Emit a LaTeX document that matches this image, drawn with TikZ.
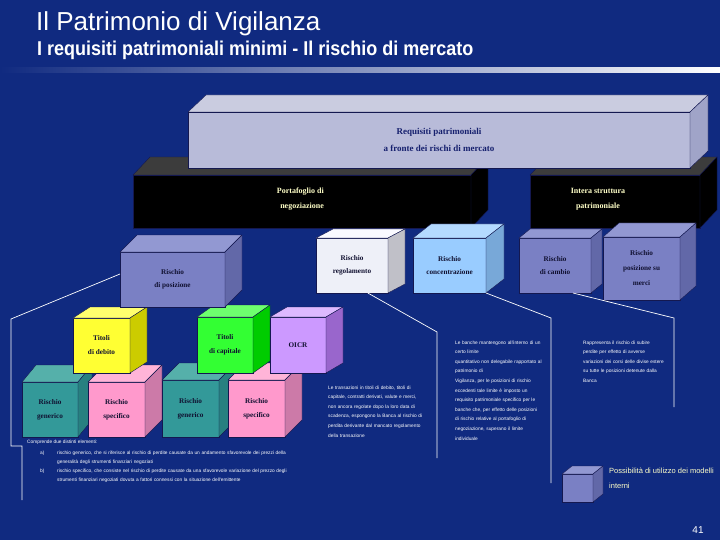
\documentclass[tikz,border=0pt]{standalone}
\usepackage{fontspec}
\setmainfont{Liberation Serif}
\newfontfamily\arialf{Liberation Sans}
\usetikzlibrary{calc}
\definecolor{bg}{RGB}{16,42,128}
\definecolor{edge}{RGB}{20,24,80}
\definecolor{boxtext}{RGB}{16,16,48}
\definecolor{navytext}{RGB}{22,32,110}
\definecolor{paleyel}{RGB}{255,255,200}
\definecolor{lavF}{RGB}{184,187,217}
\definecolor{lavT}{RGB}{202,204,224}
\definecolor{lavS}{RGB}{160,164,200}
\definecolor{blkF}{RGB}{0,0,0}
\definecolor{blkT}{RGB}{60,60,60}
\definecolor{blkS}{RGB}{0,0,0}
\definecolor{perF}{RGB}{122,128,196}
\definecolor{perT}{RGB}{146,152,210}
\definecolor{perS}{RGB}{98,104,168}
\definecolor{whtF}{RGB}{238,240,248}
\definecolor{whtT}{RGB}{250,250,255}
\definecolor{whtS}{RGB}{192,192,200}
\definecolor{lblF}{RGB}{153,204,255}
\definecolor{lblT}{RGB}{180,218,255}
\definecolor{lblS}{RGB}{120,168,216}
\definecolor{yelF}{RGB}{255,255,51}
\definecolor{yelT}{RGB}{255,255,110}
\definecolor{yelS}{RGB}{204,204,0}
\definecolor{grnF}{RGB}{51,255,51}
\definecolor{grnT}{RGB}{110,255,110}
\definecolor{grnS}{RGB}{0,204,0}
\definecolor{lilF}{RGB}{204,153,255}
\definecolor{lilT}{RGB}{221,185,255}
\definecolor{lilS}{RGB}{153,102,204}
\definecolor{teaF}{RGB}{51,153,153}
\definecolor{teaT}{RGB}{85,176,170}
\definecolor{teaS}{RGB}{40,128,128}
\definecolor{pnkF}{RGB}{255,153,204}
\definecolor{pnkT}{RGB}{255,180,216}
\definecolor{pnkS}{RGB}{204,122,168}
% #1 name, #2 x, #3 y, #4 w, #5 h, #6 dx, #7 dy, #8 colour, #9 text
\newcommand\cubebox[9]{%
  \node[cubefront, minimum width=#4pt, minimum height=#5pt, fill=#8F] (#1) at (#2,#3) {#9};
  \filldraw[cubeface, fill=#8T] (#1.north west) -- ++(#6,-#7) -- ($(#1.north east)+(#6,-#7)$) -- (#1.north east) -- cycle;
  \filldraw[cubeface, fill=#8S] (#1.north east) -- ++(#6,-#7) -- ($(#1.south east)+(#6,-#7)$) -- (#1.south east) -- cycle;
}
\newcommand\jl[1]{\makebox[\linewidth][s]{#1}\par}
\begin{document}
\begin{tikzpicture}[x=1pt,y=-1pt,
  boxfont/.style={font=\bfseries\fontsize{7.2}{13}\selectfont},
  cubefront/.style={anchor=north west, draw=edge, line width=0.4pt, inner sep=0pt, outer sep=0pt, align=center, text=boxtext, boxfont},
  cubeface/.style={draw=edge, line width=0.4pt, line join=round},
  blacklabel/.style={text=paleyel, font=\bfseries\fontsize{8}{15}\selectfont, inner sep=0pt},
  conn/.style={draw=white, line width=0.7pt},
  smalltext/.style={text=white, font=\arialf\fontsize{4.8}{9.6}\selectfont, inner sep=0pt, anchor=north west, align=left},
]
\fill[bg] (0,0) rectangle (720,540);
\useasboundingbox (0,0) rectangle (720,540);
% header
\shade[left color=bg, right color=white] (0,68) rectangle (720,73);
\node[anchor=west, inner sep=0pt, text=white, font=\arialf\fontsize{26}{28}\selectfont] (title) at (36,24) {Il Patrimonio di Vigilanza};
\node[anchor=west, inner sep=0pt, text=white, font=\arialf\bfseries\fontsize{20}{22}\selectfont] (subtitle) at (37,50) {\scalebox{0.9}[1]{I requisiti patrimoniali minimi - Il rischio di mercato}};
% black boxes
\cubebox{porta}{133}{175}{338}{53}{17}{18}{blk}{}
\cubebox{intera}{530}{175}{170}{53}{17}{18}{blk}{}
\node[blacklabel, anchor=east, align=right] (portatxt) at (324,199.5) {Portafoglio di\\negoziazione};
\node[blacklabel, align=center] (interatxt) at (598,199.5) {Intera struttura\\patrimoniale};
% top box
\tikzset{boxfont/.style={font=\bfseries\fontsize{9}{17}\selectfont, text=navytext}}
\cubebox{req}{188}{112}{502}{56}{18}{17}{lav}{Requisiti patrimoniali\\a fronte dei rischi di mercato}
% bottom row
\tikzset{boxfont/.style={font=\bfseries\fontsize{7.2}{14}\selectfont}}
\cubebox{gen1}{22}{382}{56}{55}{14}{17}{tea}{Rischio\\generico}
\cubebox{spec1}{88}{382}{57}{55}{17}{17}{pnk}{Rischio\\specifico}
\cubebox{gen2}{162}{380}{57}{57}{17}{17}{tea}{Rischio\\generico}
\cubebox{spec2}{228}{380}{57}{57}{17}{17}{pnk}{Rischio\\specifico}
% titles row
\cubebox{debito}{73}{318}{57}{55}{17}{11}{yel}{Titoli\\di debito}
\cubebox{capit}{197}{317}{56}{56}{17}{12}{grn}{Titoli\\di capitale}
\cubebox{oicr}{270}{317}{56}{56}{17}{10}{lil}{OICR}
% risks row
\tikzset{boxfont/.style={font=\bfseries\fontsize{7.2}{13}\selectfont}}
\cubebox{posiz}{120}{252}{105}{55}{17}{17}{per}{Rischio\\di posizione}
\cubebox{regol}{316}{238}{72}{55}{17}{9}{wht}{Rischio\\regolamento}
\cubebox{conc}{413}{238}{73}{55}{18}{14}{lbl}{Rischio\\concentrazione}
\cubebox{camb}{519}{238}{72}{55}{11}{9}{per}{Rischio\\di cambio}
\tikzset{boxfont/.style={font=\bfseries\fontsize{7.2}{15}\selectfont}}
\cubebox{merci}{603}{237}{77}{63}{16}{14}{per}{Rischio\\posizione su\\merci}
% small cube
\cubebox{modcube}{562}{474}{31}{28}{10}{8}{per}{}
\node[anchor=north west, inner sep=0pt, text=paleyel, align=left, font=\arialf\fontsize{7.5}{15}\selectfont] (modtxt) at (609,468) {Possibilità di utilizzo dei modelli\\interni};
% texts
\node[smalltext, text width=102pt] (regtxt) at (328,385.5) {\jl{Le transazioni in titoli di debito, titoli di}\jl{capitale, contratti derivati, valute e merci,}\jl{non ancora regolate dopo la loro data di}\jl{scadenza, espongono la Banca al rischio di}\jl{perdita derivante dal mancato regolamento}della transazione};
\node[smalltext, text width=87pt] (conctxt) at (455,340.5) {\jl{Le banche mantengono all'interno di un}certo limite\par\jl{quantitativo non delegabile rapportato al}patrimonio di\par\jl{Vigilanza, per le posizioni di rischio}\jl{eccedenti tale limite è imposto un}\jl{requisito patrimoniale specifico per le}\jl{banche che, per effetto delle posizioni}\jl{di rischio relative al portafoglio di}\jl{negoziazione, superano il limite}individuale};
\node[smalltext, text width=85pt] (cambtxt) at (583,340.5) {\jl{Rappresenta il rischio di subire}\jl{perdite per effetto di avverse}\jl{variazioni dei corsi delle divise estere}\jl{su tutte le posizioni detenute dalla}Banca};
\node[smalltext] (comptxt) at (27,439.5) {Comprende due distinti elementi:};
\node[smalltext] (alab) at (40,450.5) {a)};
\node[smalltext, text width=256pt] (atxt) at (57,450.5) {\jl{rischio generico, che si riferisce al rischio di perdite causate da un andamento sfavorevole dei prezzi della}generalità degli strumenti finanziari negoziati};
\node[smalltext] (blab) at (40,468.5) {b)};
\node[smalltext, text width=256pt] (btxt) at (57,468.5) {\jl{rischio specifico, che consiste nel rischio di perdite causate da una sfavorevole variazione del prezzo degli}strumenti finanziari negoziati dovuta a fattori connessi con la situazione dell'emittente};
\node[text=white, inner sep=0pt, font=\arialf\fontsize{10}{12}\selectfont] (pagenum) at (698,530) {41};
% connectors
\coordinate (pk1) at (11,319);
\coordinate (pk2) at (11,446);
\coordinate (pk3) at (22,446);
\coordinate (pend) at (22,500);
\draw[conn] ($(posiz.north west)!0.4!(posiz.south west)$) -- (pk1) -- (pk2) -- (pk3) -- (pend);
\coordinate (rk) at (437,332);
\coordinate (rend) at (437,458);
\draw[conn] ($(regol.south west)!0.72!(regol.south east)$) -- (rk) -- (rend);
\coordinate (ck) at (551,318);
\coordinate (cend) at (551,483);
\draw[conn] (conc.south east) -- (ck) -- (cend);
\coordinate (kk) at (674,318);
\coordinate (kend) at (674,407);
\draw[conn] ($(camb.south west)!0.75!(camb.south east)$) -- (kk) -- (kend);
\end{tikzpicture}
\end{document}
